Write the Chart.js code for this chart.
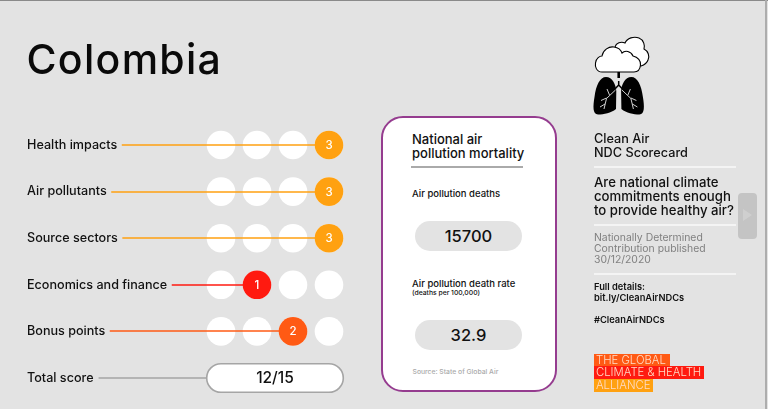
<!DOCTYPE html>
<html lang="en">
<head>
<meta charset="utf-8">
<title>Colombia – Clean Air NDC Scorecard</title>
<script src="https://cdn.jsdelivr.net/npm/chart.js@4"></script>
<style>
html,body{margin:0;padding:0;background:#e3e3e3;width:768px;height:409px;overflow:hidden}
body{font-family:Inter,"Open Sans",sans-serif;color:#111;position:relative}
#topline{position:absolute;left:0;top:0;width:768px;height:1px;background:#8a8a8a}
#edge{position:absolute;left:765px;top:0;width:1.5px;height:409px;background:#adadad}
canvas{position:absolute;left:0;top:0}
.t{position:absolute;white-space:nowrap;line-height:1}
#title{left:26.5px;top:39px;font-size:41px;font-weight:500;letter-spacing:1.3px;color:#0a0a0a}
#card{position:absolute;left:381px;top:116px;width:172px;height:272px;background:#fff;border:2px solid #953c8f;border-radius:22px;box-sizing:content-box}
.rule{position:absolute;height:1.5px}
.pill{position:absolute;left:415px;width:107px;height:30px;background:#e3e3e3;border-radius:15px;font-size:16.5px;font-weight:500;text-align:center;line-height:30px}
#btn{position:absolute;left:738px;top:193px;width:19px;height:46px;background:#c4c4c4;border-radius:4px}
#btn i{position:absolute;left:5px;top:16px;width:0;height:0;border-left:9px solid #cfcfcf;border-top:6.5px solid transparent;border-bottom:6.5px solid transparent}
.logo{position:absolute;left:594px;height:13px;line-height:13px;font-size:11.3px;font-weight:300;color:#ffdcc8;padding:0 2px;box-sizing:border-box;white-space:nowrap}
</style>
</head>
<body>
<div id="topline"></div>
<div id="edge"></div>
<canvas id="c" width="768" height="409"></canvas>

<div class="t" id="title"></div>

<div id="card"></div>
<div class="t" style="left:412px;top:132.5px;font-size:13px;font-weight:500">National air</div>
<div class="t" style="left:412px;top:147px;font-size:13px;font-weight:500">pollution mortality</div>
<div class="rule" style="left:411px;top:166px;width:112px;background:#aaa"></div>
<div class="t" style="left:412px;top:189px;font-size:9.5px;font-weight:500">Air pollution deaths</div>
<div class="pill" id="deaths" style="top:221px"></div>
<div class="t" style="left:412px;top:279px;font-size:9.5px;font-weight:500">Air pollution death rate</div>
<div class="t" style="left:412px;top:290px;font-size:6.8px;font-weight:500">(deaths per 100,000)</div>
<div class="pill" id="rate" style="top:320px"></div>
<div class="t" style="left:412.5px;top:368.5px;font-size:6.8px;font-weight:500;color:#aaa">Source: State of Global Air</div>

<svg style="position:absolute;left:590px;top:30px" width="64" height="90" viewBox="590 30 64 90">
  <path d="M615 47C616 43 621 41 625 43C627 38 634 36 639 38C644 40 645 46 644 49C648 51 650 56 648 60C647 63 644 65 641 66L620 66Z" fill="#fff" stroke="#000" stroke-width="1.1"/>
  <path d="M602 72C596 72 595 66 595.5 63C596 58 600 56 602 56C603 50 609 46 614 47C618 47.5 621 50 622 53C625 50 631 51 633 56C638 57 641 61 640.5 65C640 70 637 72 634 72Z" fill="#fff" stroke="#000" stroke-width="1.1"/>
  <path d="M618.7 72V78" stroke="#000" stroke-width="2.6"/>
  <path d="M618.7 81V85L614 90M618.7 85L623.4 90" stroke="#000" stroke-width="1.5" fill="none"/>
  <g id="lung">
    <path d="M606 77C600 77 596 85 594.5 97C593 106 592.5 114.5 598 114.5C604 114.5 611 113 616 109L616.3 91C616 85 612.5 77 606 77Z" fill="#000"/>
    <path d="M615.5 90L606.5 98.5L604 109M609.5 95L607 89M606.5 98L601 100.5M605 104L600 107" stroke="#e8e8e8" stroke-width="0.9" fill="none"/>
  </g>
  <use href="#lung" transform="translate(1237.4 0) scale(-1 1)"/>
</svg>

<div class="t" style="left:594px;top:132.5px;font-size:12.7px;font-weight:500">Clean Air</div>
<div class="t" style="left:594px;top:147px;font-size:12.7px;font-weight:500">NDC Scorecard</div>
<div class="rule" style="left:594px;top:166px;width:142px;background:#f4f4f4"></div>
<div class="t" style="left:594px;top:175.5px;font-size:13.2px;font-weight:500">Are national climate</div>
<div class="t" style="left:594px;top:189.5px;font-size:13.2px;font-weight:500">commitments enough</div>
<div class="t" style="left:594px;top:203.5px;font-size:13.2px;font-weight:500">to provide healthy air?</div>
<div class="rule" style="left:594px;top:224px;width:142px;background:#f4f4f4"></div>
<div class="t" style="left:594px;top:233px;font-size:10.4px;color:#808080">Nationally Determined</div>
<div class="t" style="left:594px;top:244px;font-size:10.4px;color:#808080">Contribution published</div>
<div class="t" style="left:594px;top:255px;font-size:10.4px;color:#808080">30/12/2020</div>
<div class="rule" style="left:594px;top:273px;width:142px;background:#f4f4f4"></div>
<div class="t" style="left:594px;top:282px;font-size:9.3px;font-weight:600">Full details:</div>
<div class="t" style="left:594px;top:293px;font-size:9.3px;font-weight:600">bit.ly/CleanAirNDCs</div>
<div class="t" style="left:594px;top:314.5px;font-size:9.3px;font-weight:600">#CleanAirNDCs</div>

<div id="btn"><i></i></div>

<div class="logo" style="top:353.5px;width:76px;background:#ff5a14">THE GLOBAL</div>
<div class="logo" style="top:366px;width:110px;background:#ff1a10">CLIMATE &amp; HEALTH</div>
<div class="logo" style="top:379px;width:59px;background:#ffa111">ALLIANCE</div>

<script>
const country = "Colombia";
const categories = ["Health impacts", "Air pollutants", "Source sectors", "Economics and finance", "Bonus points", "Total score"];
const scores = [3, 3, 3, 1, 2];
const maxScore = 15;
const totalScore = 12;
const slots = [0, 1, 2, 3];
const scoreColors = ["#e3e3e3", "#ff1a10", "#ff5a14", "#ffa111"];
const airPollutionDeaths = 15700;
const airPollutionDeathRate = 32.9;

document.getElementById("title").textContent = country;
document.getElementById("deaths").textContent = airPollutionDeaths;
document.getElementById("rate").textContent = airPollutionDeathRate;

const FONT = 'Inter, "Open Sans", sans-serif';
const DOT_R = 14.3;
const tickFont = {family: FONT, size: 12.6, weight: "500"};

const blankDots = [];
scores.forEach((s, i) => slots.forEach(k => blankDots.push({x: k, y: categories[i]})));
const scoreDots = scores.map((s, i) => ({x: s, y: categories[i]}));

const scorecard = {
  id: "scorecard",
  labelEnd(chart, i) {
    const c = chart.ctx, y = chart.scales.y;
    c.save();
    c.font = `${tickFont.weight} ${tickFont.size}px ${FONT}`;
    const w = c.measureText(categories[i]).width;
    c.restore();
    return y.left + w;
  },
  afterDatasetDraw(chart, args) {
    if (args.index !== 0) return;
    const c = chart.ctx, {x, y} = chart.scales;
    c.save();
    scores.forEach((s, i) => {
      const py = Math.round(y.getPixelForValue(i));
      c.strokeStyle = scoreColors[s];
      c.lineWidth = 1.6;
      c.beginPath();
      c.moveTo(this.labelEnd(chart, i) + 4.5, py);
      c.lineTo(x.getPixelForValue(s), py);
      c.stroke();
    });
    c.restore();
  },
  afterDatasetsDraw(chart) {
    const c = chart.ctx, {x, y} = chart.scales;
    c.save();
    c.textAlign = "center";
    c.textBaseline = "middle";
    c.fillStyle = "#fff";
    c.font = `500 11.5px ${FONT}`;
    scores.forEach((s, i) => c.fillText(String(s), x.getPixelForValue(s), y.getPixelForValue(i) + 0.5));
    const row = scores.length, py = y.getPixelForValue(row);
    const left = x.getPixelForValue(slots[0]) - DOT_R;
    const right = x.getPixelForValue(slots[slots.length - 1]) + DOT_R;
    c.strokeStyle = "#a5a5a5";
    c.lineWidth = 1.6;
    c.beginPath();
    c.moveTo(this.labelEnd(chart, row) + 5, py);
    c.lineTo(left, py);
    c.stroke();
    c.fillStyle = "#fff";
    c.beginPath();
    c.roundRect(left, py - DOT_R, right - left, DOT_R * 2, DOT_R);
    c.fill();
    c.stroke();
    c.fillStyle = "#111";
    c.font = `500 15.5px ${FONT}`;
    c.fillText(`${totalScore}/${maxScore}`, (left + right) / 2, py + 0.5);
    c.restore();
  }
};

new Chart(document.getElementById("c"), {
  type: "scatter",
  data: {
    datasets: [
      {data: blankDots, backgroundColor: "#fff", borderWidth: 0, pointRadius: DOT_R, pointHoverRadius: DOT_R, clip: false, order: 2},
      {data: scoreDots, backgroundColor: scores.map(s => scoreColors[s]), borderWidth: 0, pointRadius: DOT_R, pointHoverRadius: DOT_R, clip: false, order: 1}
    ]
  },
  options: {
    responsive: false,
    animation: false,
    events: [],
    layout: {autoPadding: false, padding: {left: 27, right: 425, top: 121.7, bottom: 7.7}},
    plugins: {legend: {display: false}, tooltip: {enabled: false}},
    scales: {
      x: {type: "linear", display: false, min: -0.389, max: 3.389},
      y: {
        type: "category",
        labels: categories,
        offset: true,
        afterFit(s) { s.width = 180; },
        border: {display: false},
        grid: {display: false, drawTicks: false},
        ticks: {crossAlign: "far", color: "#111", font: tickFont, padding: 0, autoSkip: false}
      }
    }
  },
  plugins: [scorecard]
});
</script>
</body>
</html>
